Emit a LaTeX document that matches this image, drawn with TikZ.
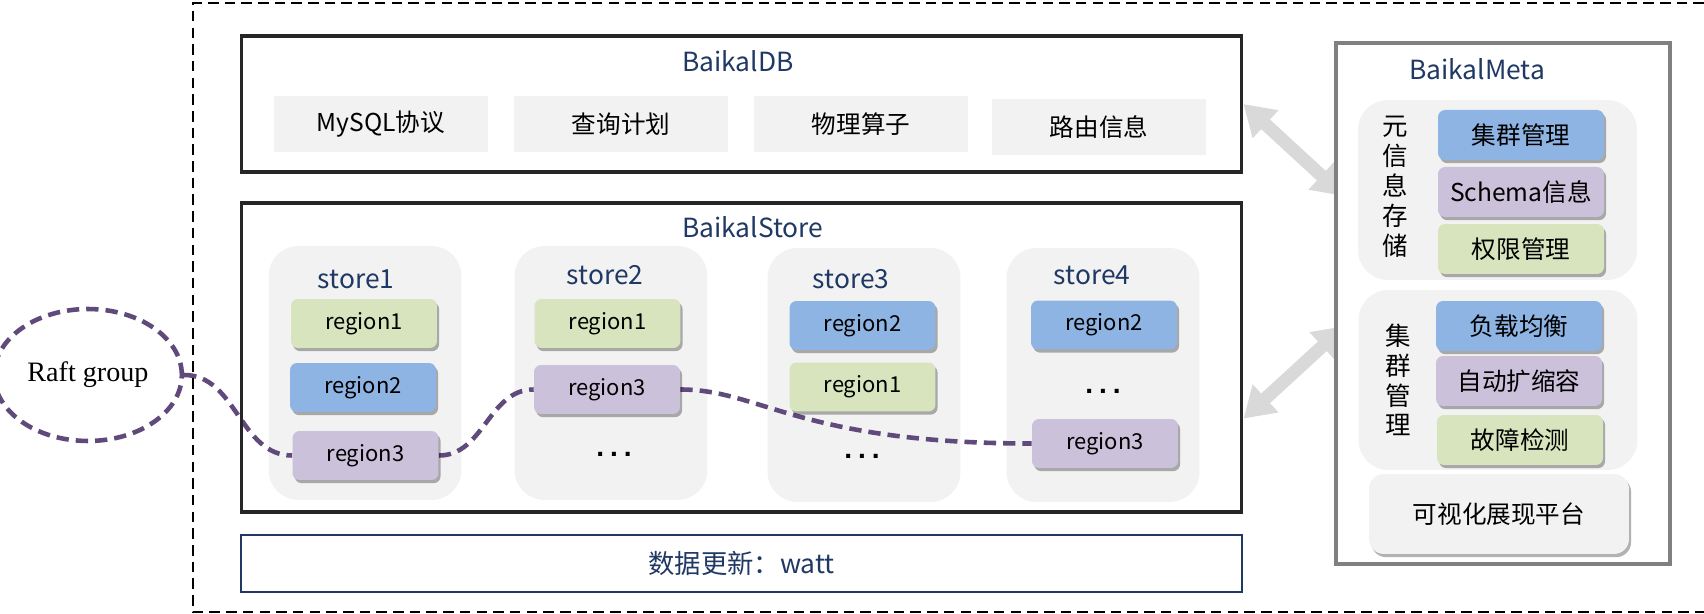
\documentclass[tikz,border=0pt]{standalone}
\usepackage{fontspec}
\newfontfamily\cjk{Noto Sans CJK SC}
\newfontfamily\raftfont{Liberation Serif}
\newfontfamily\dotfont{Liberation Sans}
\usetikzlibrary{shapes.geometric,shadows,arrows.meta}
\definecolor{navy}{HTML}{1F3864}
\definecolor{boxline}{HTML}{262626}
\definecolor{metagray}{HTML}{808080}
\definecolor{lightbg}{HTML}{F2F2F2}
\definecolor{rgreen}{HTML}{D7E4BD}
\definecolor{rblue}{HTML}{8EB4E3}
\definecolor{rpurple}{HTML}{CCC1DA}
\definecolor{arrowgray}{HTML}{D9D9D9}
\definecolor{raftpurple}{HTML}{604A7B}
\pgfdeclarelayer{bg}
\pgfsetlayers{bg,main}
\begin{document}
\begin{tikzpicture}[x=0.02cm,y=-0.02cm,
  every node/.style={font=\cjk\fontsize{14}{17}\selectfont},
  title/.style={anchor=west,text=navy,font=\cjk\fontsize{15}{18}\selectfont},
  bigbox/.style={draw=boxline,line width=1.8pt,minimum width=20.02cm},
  column/.style={fill=lightbg,rounded corners=0.6cm,minimum width=3.86cm,minimum height=5.08cm},
  softshadow/.style={drop shadow={shadow xshift=1.2pt,shadow yshift=-1.8pt,opacity=0.3,fill=black}},
  region/.style={rounded corners=0.14cm,minimum width=2.92cm,minimum height=0.98cm,
    font=\cjk\fontsize{12.5}{15}\selectfont,softshadow},
  item/.style={fill=lightbg,minimum width=4.28cm,minimum height=1.12cm},
  metaitem/.style={rounded corners=0.14cm,minimum width=3.32cm,minimum height=1cm,softshadow},
  group/.style={fill=lightbg,rounded corners=0.6cm,minimum width=5.58cm,minimum height=3.6cm},
  vtext/.style={align=center,font=\cjk\fontsize{14.5}{17}\selectfont},
  more/.style={font=\dotfont\bfseries\fontsize{16}{19}\selectfont},
  raftline/.style={draw=raftpurple,line width=2.6pt,dash pattern=on 7pt off 4pt},
  bigarrow/.style={draw=arrowgray,line width=0.26cm,
    {Triangle[width=0.72cm,length=0.6cm]}-{Triangle[width=0.72cm,length=0.6cm]}},
  outer/.style={line width=1pt,dash pattern=on 6pt off 3.5pt}]
\useasboundingbox (0,0) rectangle (1704,614);
\draw[outer] (1704,3) -- (193,3) -- (193,612) -- (1704,612);

% BaikalDB
\node[bigbox,minimum height=2.72cm] (db) at (741.5,104) {};
\node[title] (dbtitle) at (676,61) {BaikalDB};
\node[item] (mysql) at (381,124) {MySQL协议};
\node[item] (plan) at (621,124) {查询计划};
\node[item] (op) at (861,124) {物理算子};
\node[item] (route) at (1099,127) {路由信息};

% BaikalStore
\node[bigbox,minimum height=6.18cm] (store) at (741.5,357.5) {};
\node[title] (storetitle) at (676,227) {BaikalStore};
\begin{pgfonlayer}{bg}
\foreach \n/\x/\y in {1/365/373,2/611/373,3/864/375,4/1103/375}
  \node[column] (col\n) at (\x,\y) {};
\end{pgfonlayer}
\foreach \n/\x/\y in {1/356/279,2/605/275,3/851/279,4/1092/275}
  \node[text=navy,font=\cjk\fontsize{15}{18}\selectfont] (lbl\n) at (\x,\y) {store\n};
\foreach \n/\x/\y/\c/\t in {s1r1/364/323.5/rgreen/region1,s1r2/363/387.5/rblue/region2,
    s1r3/365.5/455.5/rpurple/region3,s2r1/607.5/323.5/rgreen/region1,
    s2r3/607/389.5/rpurple/region3,s3r2/862.5/325.5/rblue/region2,
    s3r1/862.5/387/rgreen/region1,s4r2/1104/325/rblue/region2,
    s4r3/1105/443.5/rpurple/region3}
  \node[region,fill=\c] (\n) at (\x,\y) {\t};
\foreach \n/\x/\y in {2/614/454,3/862/456,4/1103/391}
  \node[more] (dots\n) at (\x,\y) {.\hspace{3.4pt}.\hspace{3.4pt}.};

% data update
\node[draw=navy,line width=1.2pt,minimum width=20.02cm,minimum height=1.14cm,
  text=navy,font=\cjk\fontsize{15}{18}\selectfont] (data) at (741.5,563.5) {数据更新：watt};

% BaikalMeta
\node[draw=metagray,fill=white,line width=1.8pt,minimum width=6.68cm,minimum height=10.42cm] (meta) at (1503,303.5) {};
\node[title,anchor=center] (metatitle) at (1477,69) {BaikalMeta};
\node[group] (grpinfo) at (1497.5,190) {};
\node[vtext] (vinfo) at (1395,187) {元\\信\\息\\存\\储};
\node[metaitem,fill=rblue] (mgr) at (1521,135) {集群管理};
\node[metaitem,fill=rpurple] (schema) at (1521,192) {Schema信息};
\node[metaitem,fill=rgreen] (auth) at (1521,249) {权限管理};
\node[group] (grpclu) at (1498,380) {};
\node[vtext] (vclu) at (1398,380) {集\\群\\管\\理};
\node[metaitem,fill=rblue] (lb) at (1519,326) {负载均衡};
\node[metaitem,fill=rpurple] (scale) at (1519,381) {自动扩缩容};
\node[metaitem,fill=rgreen] (fault) at (1520,440) {故障检测};
\node[group,minimum width=5.2cm,minimum height=1.6cm,rounded corners=0.3cm,softshadow] (plat) at (1499,514) {可视化展现平台};

% Raft group
\node[ellipse,raftline,minimum width=3.44cm,minimum height=2.64cm,
  font=\raftfont\fontsize{16}{19}\selectfont] (raft) at (88,375) {Raft group};

\begin{pgfonlayer}{bg}
\draw[raftline] (raft.east) to[out=0,in=180] (s1r3.west)
  (s1r3.east) to[out=0,in=180] (s2r3.west)
  (s2r3.east) .. controls +(80,0) and +(-232,0) .. (s4r3.west);
\draw[bigarrow] (db.east) -- ([xshift=0.18cm,yshift=-0.12cm]meta.west |- grpinfo.center);
\draw[bigarrow] (store.east |- s4r3.north) -- ([xshift=0.2cm]meta.west |- lb.center);
\end{pgfonlayer}
\end{tikzpicture}
\end{document}
